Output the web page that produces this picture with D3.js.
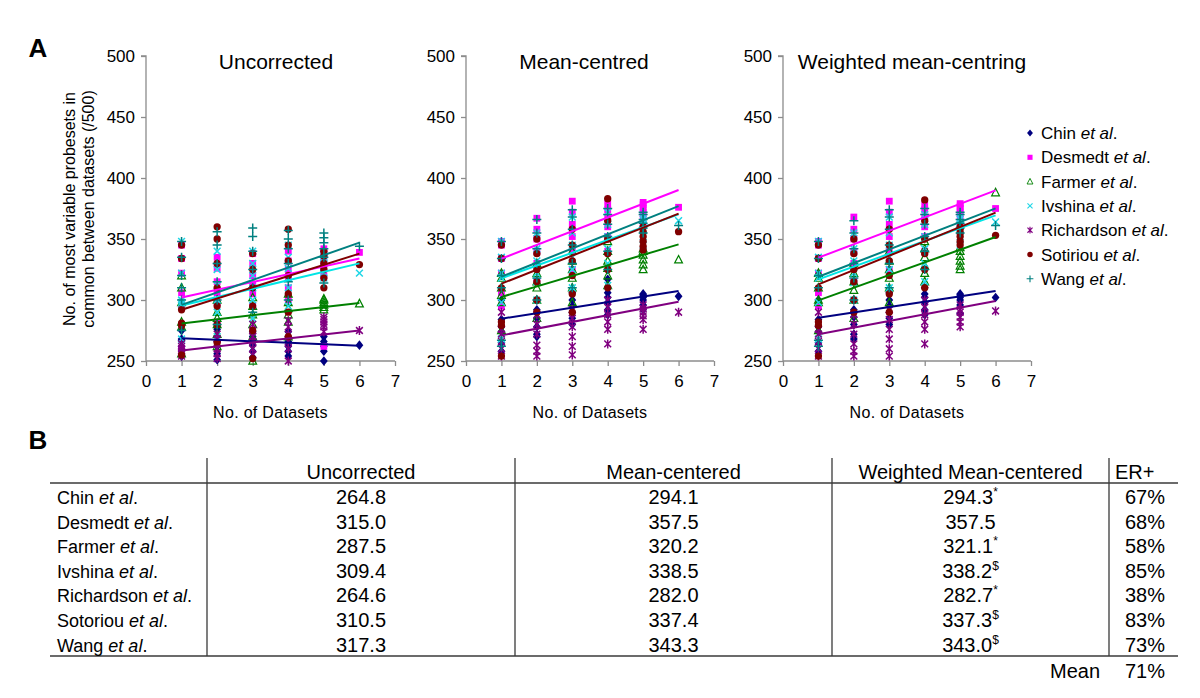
<!DOCTYPE html>
<html><head><meta charset="utf-8">
<script src="https://cdn.jsdelivr.net/npm/d3@7"></script>
<style>
body{margin:0;background:#fff}
svg{display:block}
text{font-family:"Liberation Sans",Arial,Helvetica,sans-serif;fill:#000}
</style>
</head><body>
<svg id="chart" width="1200" height="698"></svg>
<script>
// ---------------- DATA ----------------
const seriesNames = ["Chin","Desmedt","Farmer","Ivshina","Richardson","Sotiriou","Wang"];
const seriesColors = ["#000080","#ff00ff","#008000","#1fd6e6","#800080","#800000","#008080"];
const seriesMarkers = ["diamond","square","triangle","cross","asterisk","circle","plus"];
const xTicks = [0,1,2,3,4,5,6,7];
const yTicks = [250,300,350,400,450,500];
const xLevels = [1,2,3,4,5,6];
const panelTitles = ["Uncorrected","Mean-centred","Weighted mean-centring"];

// points per series, grouped by number of datasets (1..6)
const uncorrectedPoints = [
  [[254,262,267,268,275,280],[251,256,262,266,270,276],[253,258,263,266,270,274],[254,258,262,266,270,274],[250,258,262,264,266,270],[263]],
  [[260,296,306,322,334,345],[282,298,306,315,326,335],[295,305,312,320,330,338],[300,310,318,325,332,340],[262,320,328,334,338,342],[339]],
  [[256,278,282,298,310,320],[262,272,280,285,290,300],[250,270,280,288,295,302],[270,282,288,293,298,305],[292,294,296,298,300,301],[297]],
  [[268,296,298,300,322,348],[270,290,300,312,325,340],[285,300,310,320,330,340],[295,310,318,326,335,345],[318,322,326,330,334,336],[322]],
  [[254,256,258,260,262,264],[252,256,260,264,268,272],[255,260,266,270,275,280],[250,260,266,272,278,283],[274,278,280,282,284,286],[275]],
  [[255,279,281,292,334,345],[265,280,295,310,330,350,360],[252,275,295,310,325,338],[270,290,305,320,332,345,358],[310,318,325,330,336,340],[329]],
  [[275,300,310,320,335,348],[280,300,315,330,345,356],[290,310,325,340,352,359],[300,315,330,342,350,357],[314,335,342,347,351,355],[344]]
];
const meanCentredPoints = [
  [[258,265,274,278,284,300],[270,272,278,285,292,300],[280,285,290,295,300,306],[288,292,298,302,306,317],[292,296,300,302,304,305],[303]],
  [[295,306,322,334,345,348],[315,330,340,350,358,367],[325,340,352,362,372,381],[340,352,360,368,374,379],[362,368,372,375,378,380],[376]],
  [[275,298,304,310,318,322],[285,300,310,315,322,330],[298,310,318,325,332,340],[312,320,326,332,340,348],[325,329,333,337,340,342],[333]],
  [[268,298,318,322,335,348],[300,315,322,332,342,355],[310,325,335,345,355,368],[312,330,342,352,362,372],[345,352,358,362,366,368],[365]],
  [[254,260,266,272,276,290],[254,258,263,272,280,288],[255,262,270,278,285,292],[264,276,282,288,294,300],[276,284,287,290,293,296],[290]],
  [[254,279,282,310,334,345],[290,300,315,325,338,350],[290,305,320,332,345,358],[310,325,338,350,365,383],[341,344,348,352,356,360],[356]],
  [[262,267,310,320,334,348],[300,318,330,342,355,366],[310,330,345,358,368,374],[325,340,352,362,370,375],[355,359,363,366,370,372],[361]]
];
const weightedPoints = [
  [[258,265,274,278,284,300],[268,272,280,286,292,300],[280,285,290,295,300,306],[288,292,298,302,305,310],[289,296,300,302,304,305],[302]],
  [[295,306,322,334,345,348],[315,330,340,350,358,368],[325,340,352,362,372,381],[340,352,360,368,374,378],[362,368,372,375,377,379],[375]],
  [[275,298,300,310,318,322],[285,300,308,315,322,330],[298,310,318,325,332,340],[315,322,328,335,342,348],[325,328,332,336,340,343],[388]],
  [[268,298,318,322,335,348],[300,314,322,332,342,355],[310,325,335,345,355,368],[315,330,342,352,362,370],[345,352,358,362,366,368],[364]],
  [[254,260,266,272,276,290],[254,258,264,272,280,288],[254,260,268,276,284,292],[264,276,282,288,294,300],[278,282,286,290,292,296],[291]],
  [[254,279,282,310,334,345],[290,300,315,325,338,350],[290,305,320,332,345,358],[310,325,338,350,365,382],[345,348,352,355,358,360],[353]],
  [[262,267,310,320,334,348],[300,318,330,342,355,365],[310,330,345,358,368,374],[325,340,352,362,370,375],[355,359,363,366,370,372],[361]]
];
// linear trendline values at x=1 and x=6
const uncorrectedTrend = [[268.6,262.5],[302,334],[280.8,297.6],[295.5,330],[258.7,275],[292,338],[296,347]];
const meanCentredTrend = [[284.7,307.4],[333.9,390.2],[302.5,345.6],[317.8,370.2],[271,298.6],[313.4,370.8],[319.1,377]];
const weightedTrend = [[285.5,307.4],[334.7,389.9],[299.7,351.6],[316.9,369.4],[271.9,299.2],[312.8,371.6],[319.1,375.1]];

// table
const tableHeaders = ["Uncorrected","Mean-centered","Weighted Mean-centered","ER+"];
const tableRowNames = ["Chin","Desmedt","Farmer","Ivshina","Richardson","Sotoriou","Wang"];
const colUncorrected = ["264.8","315.0","287.5","309.4","264.6","310.5","317.3"];
const colMeanCentered = ["294.1","357.5","320.2","338.5","282.0","337.4","343.3"];
const colWeighted = ["294.3","357.5","321.1","338.2","282.7","337.3","343.0"];
const colWeightedMark = ["*","","*","$","*","$","$"];
const colER = ["67%","68%","58%","85%","38%","83%","73%"];
const meanLabel = "Mean";
const meanER = "71%";

// ---------------- DRAW ----------------
const svg = d3.select("#chart");
const panelsX = [[146,395],[466,714],[783,1031]];
const yRange = [361,56];
const panelData = [uncorrectedPoints, meanCentredPoints, weightedPoints];
const panelTrend = [uncorrectedTrend, meanCentredTrend, weightedTrend];
const titleX = [276,584,912];

function markerPath(type){
  switch(type){
    case "diamond": return "M0,-4.8L3.9,0L0,4.8L-3.9,0Z";
    case "square": return "M-3.4,-3.4H3.4V3.4H-3.4Z";
    case "triangle": return "M0,-4.3L3.9,3.2L-3.9,3.2Z";
    case "cross": return "M-3.4,-3.4L3.4,3.4M-3.4,3.4L3.4,-3.4";
    case "asterisk": return "M-3.4,-3.4L3.4,3.4M-3.4,3.4L3.4,-3.4M0,-4.5L0,4.5";
    case "circle": return d3.symbol().type(d3.symbolCircle).size(42)();
    case "plus": return "M-4.5,0L4.5,0M0,-4.5L0,4.5";
  }
}
function styleMarker(sel, type, color){
  if(type==="diamond"||type==="square"||type==="circle"){
    sel.attr("fill",color).attr("stroke","none");
  } else if(type==="triangle"){
    sel.attr("fill","none").attr("stroke",color).attr("stroke-width",1.2);
  } else {
    sel.attr("fill","none").attr("stroke",color).attr("stroke-width",1.5);
  }
}

panelData.forEach((pts, p) => {
  const x = d3.scaleLinear().domain([0,7]).range(panelsX[p]);
  const y = d3.scaleLinear().domain([250,500]).range(yRange);
  const g = svg.append("g");

  // axes
  const yAxis = d3.axisLeft(y).tickValues(yTicks).tickSize(5).tickPadding(6).tickFormat(d3.format("d"));
  const gy = g.append("g").attr("transform",`translate(${panelsX[p][0]},0)`).call(yAxis);
  const xAxis = d3.axisBottom(x).tickValues(xTicks).tickSize(5).tickPadding(9).tickFormat(d3.format("d"));
  const gx = g.append("g").attr("transform",`translate(0,${yRange[0]})`).call(xAxis);
  [gx,gy].forEach(a=>{
    a.select(".domain").attr("stroke","#8c8c8c").attr("stroke-width",1.3);
    a.selectAll(".tick line").attr("stroke","#8c8c8c").attr("stroke-width",1.3);
    a.selectAll(".tick text").attr("font-size",17).attr("fill","#000")
      .attr("font-family",'"Liberation Sans",Arial,sans-serif');
  });
  gy.select(".domain").attr("d",`M-5,${yRange[1]}H0V${yRange[0]}`);
  gx.select(".domain").attr("d",`M${panelsX[p][0]},0H${panelsX[p][1]}`);

  // points
  pts.forEach((series, s) => {
    const flat = [];
    series.forEach((vals, i) => vals.forEach(v => flat.push({x:xLevels[i], v})));
    g.append("g").selectAll("path").data(flat).join("path")
      .attr("transform", d => `translate(${x(d.x)},${y(d.v)})`)
      .attr("d", markerPath(seriesMarkers[s]))
      .call(sel => styleMarker(sel, seriesMarkers[s], seriesColors[s]));
  });
  // trend lines
  panelTrend[p].forEach((t, s) => {
    g.append("line")
      .attr("x1", x(1)).attr("y1", y(t[0]))
      .attr("x2", x(6)).attr("y2", y(t[1]))
      .attr("stroke", s===3 ? "#00e5e5" : seriesColors[s]).attr("stroke-width",2);
  });

  // title
  g.append("text").attr("x",titleX[p]).attr("y",69).attr("text-anchor","middle")
    .attr("font-size",21).text(panelTitles[p]);
  // x-axis title
  g.append("text").attr("x",(panelsX[p][0]+panelsX[p][1])/2).attr("y",418)
    .attr("text-anchor","middle").attr("font-size",16).attr("letter-spacing","0.3px").text("No. of Datasets");
});

// y-axis title
svg.append("text").attr("transform","translate(69,209) rotate(-90)")
  .attr("text-anchor","middle").attr("font-size",16).attr("dy","0.35em")
  .text("No. of most variable probesets in");
svg.append("text").attr("transform","translate(88,209) rotate(-90)")
  .attr("text-anchor","middle").attr("font-size",16).attr("dy","0.35em")
  .text("common between datasets (/500)");

// legend
const legend = svg.append("g");
seriesNames.forEach((n, s) => {
  const ly = 133 + s*24.3;
  legend.append("path")
    .attr("d", markerPath(seriesMarkers[s]))
    .call(sel => styleMarker(sel, seriesMarkers[s], seriesColors[s]))
    .attr("transform",`translate(1030,${ly}) scale(0.75)`);
  const t = legend.append("text").attr("x",1041).attr("y",ly+6).attr("font-size",17);
  t.append("tspan").text(n+" ");
  t.append("tspan").attr("font-style","italic").text("et al");
  t.append("tspan").text(".");
});

// panel letters
svg.append("text").attr("x",38).attr("y",57).attr("text-anchor","middle")
  .attr("font-family",'"Liberation Serif","Times New Roman",serif').attr("font-weight","bold")
  .attr("font-size",26).text("A");
svg.append("text").attr("x",38).attr("y",449).attr("text-anchor","middle")
  .attr("font-family",'"Liberation Serif","Times New Roman",serif').attr("font-weight","bold")
  .attr("font-size",26).text("B");

// table
const tb = svg.append("g");
const colDiv = [207,515,832,1109];
const colCenter = [361,673.5,970.5];
const rowY = tableRowNames.map((d,i)=>497 + i*24.6);
const lineColor = "#3a3a3a";
tb.append("line").attr("x1",50).attr("x2",1178).attr("y1",483).attr("y2",483).attr("stroke",lineColor).attr("stroke-width",1.3);
tb.append("line").attr("x1",50).attr("x2",1178).attr("y1",656).attr("y2",656).attr("stroke",lineColor).attr("stroke-width",1.3);
colDiv.forEach(cx => tb.append("line").attr("x1",cx).attr("x2",cx).attr("y1",458).attr("y2",656)
  .attr("stroke",lineColor).attr("stroke-width",1.3));
tableHeaders.slice(0,3).forEach((h,i)=>{
  tb.append("text").attr("x",colCenter[i]).attr("y",479).attr("text-anchor","middle").attr("font-size",20).text(h);
});
tb.append("text").attr("x",1115).attr("y",479).attr("font-size",20).text(tableHeaders[3]);
tableRowNames.forEach((n,i)=>{
  const yy = rowY[i]+7;
  const t = tb.append("text").attr("x",57).attr("y",yy).attr("font-size",18);
  t.append("tspan").text(n+" ");
  t.append("tspan").attr("font-style","italic").text("et al");
  t.append("tspan").text(".");
  tb.append("text").attr("x",colCenter[0]).attr("y",yy).attr("text-anchor","middle").attr("font-size",20).text(colUncorrected[i]);
  tb.append("text").attr("x",colCenter[1]).attr("y",yy).attr("text-anchor","middle").attr("font-size",20).text(colMeanCentered[i]);
  const w = tb.append("text").attr("x",colCenter[2]).attr("y",yy).attr("text-anchor","middle").attr("font-size",20);
  w.append("tspan").text(colWeighted[i]);
  if(colWeightedMark[i]) w.append("tspan").attr("font-size",12).attr("dy",-8).text(colWeightedMark[i]);
  tb.append("text").attr("x",1165).attr("y",yy).attr("text-anchor","end").attr("font-size",20).text(colER[i]);
});
tb.append("text").attr("x",1100).attr("y",678).attr("text-anchor","end").attr("font-size",20).text(meanLabel);
tb.append("text").attr("x",1165).attr("y",678).attr("text-anchor","end").attr("font-size",20).text(meanER);
</script>
</body></html>
